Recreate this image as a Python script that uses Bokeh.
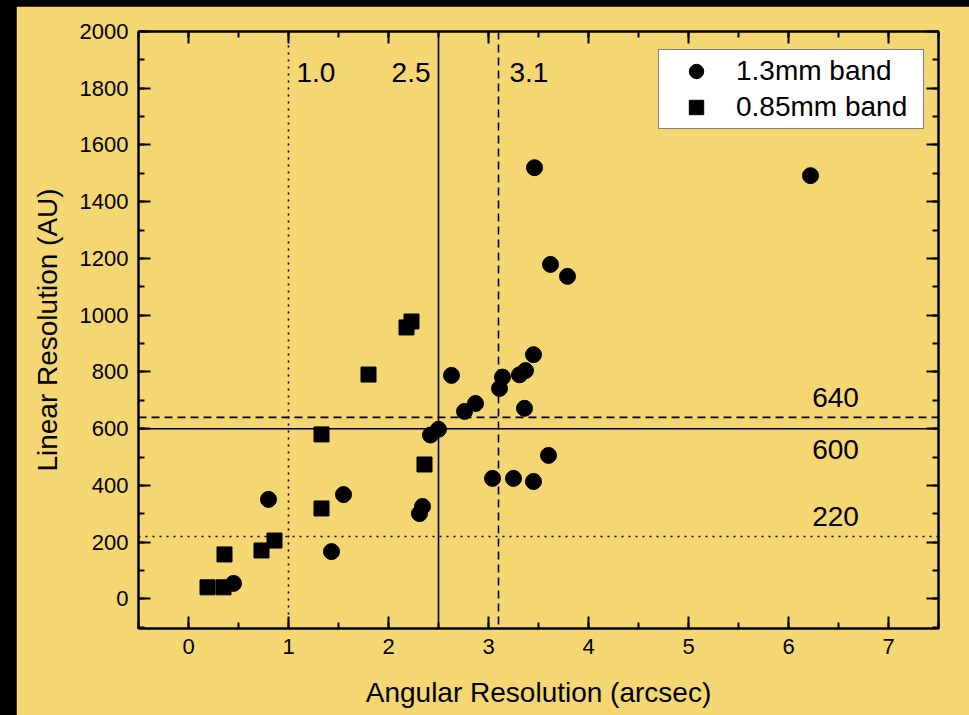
from bokeh.plotting import figure
from bokeh.models import (LinearAxis, SingleIntervalTicker, Range1d, Span, Legend,
                          LegendItem, ColumnDataSource, Label, CustomJSTickFormatter)
from bokeh.layouts import column
from bokeh.embed import file_html
from bokeh.resources import INLINE

# ---- data ----
band13_x = [6.22, 3.46, 3.62, 3.79, 3.45, 3.31, 3.37, 3.14, 3.11, 2.63, 2.87, 2.76, 3.36,
            2.42, 2.50, 3.60, 3.04, 3.25, 3.45, 2.34, 2.31, 1.55, 0.80, 1.43, 0.45]
band13_y = [1492, 1520, 1179, 1137, 861, 790, 805, 782, 742, 788, 689, 661, 672,
            578, 598, 506, 425, 425, 414, 326, 301, 368, 351, 167, 55]
band085_x = [2.23, 2.18, 1.80, 1.33, 2.36, 1.33, 0.86, 0.73, 0.36, 0.19, 0.35]
band085_y = [978, 957, 791, 580, 474, 319, 206, 171, 157, 41, 41]

vline_vals = [1.0, 2.5, 3.1]
hline_vals = [220, 600, 640]
vline_labels = ["1.0", "2.5", "3.1"]
hline_labels = ["220", "600", "640"]
series_names = ["1.3mm band", "0.85mm band"]

BG = "#F4D772"
FONT = "Liberation Sans"
BIG = "28px"

p = figure(width=953, height=709, output_backend="svg", toolbar_location=None,
           x_range=Range1d(-0.5, 7.5), y_range=Range1d(-104, 2000),
           min_border_left=122, min_border_right=31, min_border_top=25, min_border_bottom=87,
           background_fill_color=BG, border_fill_color=BG, outline_line_color="black",
           outline_line_width=2)
p.margin = (6, 0, 0, 16)
p.grid.visible = False

xt = SingleIntervalTicker(interval=1, num_minor_ticks=2)
yt = SingleIntervalTicker(interval=200, num_minor_ticks=2)


def style_axis(ax, labels=True):
    ax.axis_line_width = 2
    ax.major_tick_line_width = 2
    ax.minor_tick_line_width = 2
    ax.major_tick_in = 12
    ax.major_tick_out = 0
    ax.minor_tick_in = 6
    ax.minor_tick_out = 0
    ax.major_label_text_font = FONT
    ax.major_label_text_color = "black"
    ax.major_label_text_font_size = "22px"
    ax.axis_label_text_font = FONT
    ax.axis_label_text_color = "black"
    ax.axis_label_text_font_style = "normal"
    ax.axis_label_text_font_size = BIG
    if not labels:
        ax.formatter = CustomJSTickFormatter(code="return ''")
        ax.major_label_standoff = 0


p.xaxis.ticker = xt
p.yaxis.ticker = yt
style_axis(p.xaxis[0])
style_axis(p.yaxis[0])
p.xaxis.axis_label = "Angular Resolution (arcsec)"
p.yaxis.axis_label = "Linear Resolution (AU)"
p.xaxis.major_label_standoff = 10
p.yaxis.major_label_standoff = 10
p.xaxis.axis_label_standoff = 20
p.yaxis.axis_label_standoff = 14

top_ax = LinearAxis(ticker=SingleIntervalTicker(interval=1, num_minor_ticks=2))
right_ax = LinearAxis(ticker=SingleIntervalTicker(interval=200, num_minor_ticks=2))
style_axis(top_ax, labels=False)
style_axis(right_ax, labels=False)
p.add_layout(top_ax, "above")
p.add_layout(right_ax, "right")

# reference lines
dashes = ["2 5", "solid", "8 5"]
for v, d in zip(vline_vals, dashes):
    p.add_layout(Span(location=v, dimension="height", line_color="black",
                      line_width=1.6, line_dash=d))
for v, d in zip(hline_vals, dashes):
    p.add_layout(Span(location=v, dimension="width", line_color="black",
                      line_width=1.6, line_dash=d))

# labels for reference lines
vl_pos = [(1.08, "left"), (2.42, "right"), (3.21, "left")]
for txt, (xx, al) in zip(vline_labels, vl_pos):
    p.add_layout(Label(x=xx, y=1855, text=txt, text_align=al, text_baseline="middle",
                       text_font=FONT, text_font_size=BIG, text_color="black"))
hl_y = [291, 527, 710]
for txt, yy in zip(hline_labels, hl_y):
    p.add_layout(Label(x=6.47, y=yy, text=txt, text_align="center", text_baseline="middle",
                       text_font=FONT, text_font_size=BIG, text_color="black"))

src13 = ColumnDataSource(dict(x=band13_x, y=band13_y))
src085 = ColumnDataSource(dict(x=band085_x, y=band085_y))
r1 = p.scatter("x", "y", source=src13, marker="circle", size=16,
               fill_color="black", line_color="black")
r2 = p.scatter("x", "y", source=src085, marker="square", size=15,
               fill_color="black", line_color="black")

legend = Legend(items=[LegendItem(label=series_names[0], renderers=[r1]),
                       LegendItem(label=series_names[1], renderers=[r2])],
                location=(520, 499), padding=3, spacing=0, margin=0,
                glyph_width=68, glyph_height=36, label_standoff=6, label_width=184,
                label_height=30, label_text_font=FONT, label_text_font_size=BIG,
                label_text_color="black", border_line_color="black", border_line_width=1.5,
                background_fill_color="white", background_fill_alpha=1.0)
p.add_layout(legend, "center")

layout = column(p, styles={"background-color": "black"})
html = file_html(layout, INLINE)
html = html.replace("<body>", '<body style="background-color:#000;margin:0;">')
open("out.html", "w").write(html)
